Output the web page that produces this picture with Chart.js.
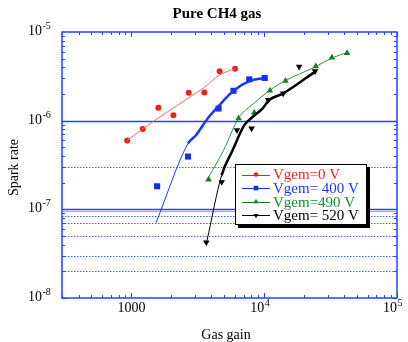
<!DOCTYPE html>
<html><head><meta charset="utf-8">
<script src="https://cdn.jsdelivr.net/npm/chart.js@4"></script>
<style>html,body{margin:0;padding:0;background:#fff;}canvas{display:block}</style>
</head><body>
<canvas id="c" width="408" height="342"></canvas>
<script>
// ---- data ----
const seriesNames = ["Vgem=0 V", "Vgem= 400 V", "Vgem=490 V", "Vgem= 520 V"];

const gain0 = [929, 1216, 1596, 2069, 2699, 3539, 4613, 6026];
const rate0 = [5.97e-7, 8.07e-7, 1.40e-6, 1.15e-6, 2.06e-6, 2.08e-6, 3.62e-6, 3.85e-6];
const fitGain0 = [929, 1216, 1534, 2729, 3539, 4590, 6026];
const fitRate0 = [5.97e-7, 8.07e-7, 1.03e-6, 1.83e-6, 2.37e-6, 3.27e-6, 3.85e-6];

const gain400 = [1561, 2667, 4529, 5872, 7709, 10093];
const rate400 = [1.82e-7, 3.94e-7, 1.37e-6, 2.17e-6, 2.92e-6, 3.03e-6];
const fitGain400 = [1534, 2667, 3062, 3750, 4529, 5872, 7709, 10093];
const fitRate400 = [7.08e-8, 5.52e-7, 6.86e-7, 1.06e-6, 1.46e-6, 2.17e-6, 2.79e-6, 3.03e-6];

const gain490 = [3811, 6412, 8414, 11037, 14460, 24470, 32300, 42050];
const rate490 = [2.17e-7, 1.06e-6, 1.23e-6, 2.18e-6, 2.82e-6, 4.11e-6, 5.15e-6, 5.79e-6];
const fitGain490 = [3811, 4943, 6412, 8414, 11037, 14460, 24470, 32300, 42050];
const fitRate490 = [2.30e-7, 4.64e-7, 1.07e-6, 1.58e-6, 2.21e-6, 2.83e-6, 4.07e-6, 5.08e-6, 5.86e-6];

const gain520 = [3665, 4786, 6237, 8036, 10720, 13900, 18320, 24150];
const rate520 = [4.24e-8, 2.03e-7, 7.81e-7, 8.17e-7, 1.71e-6, 2.03e-6, 4.06e-6, 3.62e-6];
const fitGain520 = [3698, 4775, 5781, 7080, 8169, 9707, 10910, 13900, 24470];
const fitRate520 = [4.35e-8, 2.42e-7, 4.64e-7, 8.89e-7, 1.10e-6, 1.37e-6, 1.71e-6, 2.03e-6, 3.62e-6];

const solidLines = [1e-6, 1e-7, 9.5e-8];
const dottedLines = [3e-7, 8.5e-8, 7e-8, 5e-8, 3e-8, 2e-8];
const xMajor = [1000, 10000, 100000];
const xMajorBase = ["1000", "10", "10"];
const xMajorExp = ["", "4", "5"];
const yMajor = [1e-5, 1e-6, 1e-7, 1e-8];
const yMajorExp = ["-5", "-6", "-7", "-8"];

// ---- styles ----
const colors = ["#f01e14", "#1030f0", "#0c7a22", "#000000"];
const lineColors = ["#f06a5a", "#1838f0", "#2a9040", "#000000"];
const textColors = ["#e8281c", "#1a3cf0", "#1a8a2e", "#000000"];
const SERIF = "'Liberation Serif','Times New Roman',serif";

function pts(xs, ys) { return xs.map((v, i) => ({x: v, y: ys[i]})); }

const markerDefs = [
  {style: 'circle', r: 3, rot: 0},
  {style: 'rect', r: 4.3, rot: 0},
  {style: 'triangle', r: 3.8, rot: 0},
  {style: 'triangle', r: 3.8, rot: 180}
];

const ds = [];
const fits = [[fitGain0, fitRate0], [fitGain400, fitRate400], [fitGain490, fitRate490], [fitGain520, fitRate520]];
const marks = [[gain0, rate0], [gain400, rate400], [gain490, rate490], [gain520, rate520]];
const thickFrom = [99, 1, 99, 1];
fits.forEach((f, i) => {
  ds.push({
    type: 'line', label: seriesNames[i] + ' fit', data: pts(f[0], f[1]),
    borderColor: lineColors[i], borderWidth: 1, pointRadius: 0,
    cubicInterpolationMode: 'monotone',
    segment: {borderWidth: c => (c.p0DataIndex >= thickFrom[i] ? 2.5 : 1)},
    fill: false
  });
});
marks.forEach((m, i) => {
  ds.push({
    type: 'scatter', label: seriesNames[i], data: pts(m[0], m[1]),
    backgroundColor: colors[i], borderColor: colors[i], borderWidth: 0,
    pointStyle: markerDefs[i].style, pointRadius: markerDefs[i].r, pointRotation: markerDefs[i].rot,
    showLine: false
  });
});

function drawMarker(ctx, i, x, y, scale) {
  Chart.helpers.drawPoint(ctx, {pointStyle: markerDefs[i].style, radius: markerDefs[i].r * scale, rotation: markerDefs[i].rot, borderWidth: 0}, x, y);
}

const deco = {
  id: 'deco',
  beforeDatasetsDraw(chart) {
    const {ctx, chartArea: a, scales: {y}} = chart;
    ctx.save();
    ctx.lineWidth = 1;
    dottedLines.forEach(v => {
      const py = Math.round(y.getPixelForValue(v)) + 0.5;
      ctx.strokeStyle = '#4060ff'; ctx.setLineDash([1.5, 1.5]);
      ctx.beginPath(); ctx.moveTo(a.left, py); ctx.lineTo(a.right, py); ctx.stroke();
    });
    ctx.setLineDash([]);
    solidLines.forEach((v, k) => {
      const py = Math.round(y.getPixelForValue(v)) + 0.5;
      ctx.strokeStyle = k === 2 ? '#9aaaff' : '#2244ff';
      ctx.lineWidth = k === 2 ? 1 : 1.3;
      ctx.beginPath(); ctx.moveTo(a.left, py); ctx.lineTo(a.right, py); ctx.stroke();
    });
    ctx.restore();
  },
  afterDraw(chart) {
    const {ctx, chartArea: a, scales: {x, y}} = chart;
    ctx.save();
    // frame
    ctx.strokeStyle = '#2244ff'; ctx.lineWidth = 1.5;
    ctx.strokeRect(a.left, a.top, a.right - a.left, a.bottom - a.top);
    // ticks
    ctx.lineWidth = 1;
    const xt = [];
    for (let e = 2; e <= 4; e++) for (let k = 1; k <= 9; k++) xt.push([k * Math.pow(10, e), k === 1]);
    xt.push([1e5, true]);
    xt.forEach(([v, maj]) => {
      if (v < x.min || v > x.max) return;
      const px = Math.round(x.getPixelForValue(v)) + 0.5;
      const L = maj ? 5 : 3;
      ctx.beginPath();
      ctx.moveTo(px, a.bottom); ctx.lineTo(px, a.bottom - L);
      ctx.moveTo(px, a.top); ctx.lineTo(px, a.top + L);
      ctx.stroke();
    });
    const yt = [];
    for (let e = -8; e <= -6; e++) for (let k = 1; k <= 9; k++) yt.push([k * Math.pow(10, e), k === 1]);
    yt.forEach(([v, maj]) => {
      const py = Math.round(y.getPixelForValue(v)) + 0.5;
      const L = maj ? 5 : 3;
      ctx.beginPath();
      ctx.moveTo(a.left, py); ctx.lineTo(a.left + L, py);
      ctx.moveTo(a.right, py); ctx.lineTo(a.right - L, py);
      ctx.stroke();
    });
    // tick labels
    ctx.fillStyle = '#000';
    ctx.textBaseline = 'alphabetic';
    yMajor.forEach((v, i) => {
      const py = y.getPixelForValue(v);
      ctx.font = '14px ' + SERIF; ctx.textAlign = 'right';
      ctx.fillText('10', 42, py + 3);
      ctx.font = '10px ' + SERIF; ctx.textAlign = 'left';
      ctx.fillText(yMajorExp[i], 42.5, py - 3);
    });
    xMajor.forEach((v, i) => {
      const px = x.getPixelForValue(v);
      if (xMajorExp[i] === '') {
        ctx.font = '14px ' + SERIF; ctx.textAlign = 'center';
        ctx.fillText(xMajorBase[i], px, 312);
      } else {
        ctx.font = '14px ' + SERIF; ctx.textAlign = 'right';
        ctx.fillText(xMajorBase[i], px, 312);
        ctx.font = '10px ' + SERIF; ctx.textAlign = 'left';
        ctx.fillText(xMajorExp[i], px + 0.5, 306);
      }
    });
    // title & axis titles
    ctx.font = 'bold 15px ' + SERIF; ctx.textAlign = 'center';
    ctx.fillText('Pure CH4 gas', 217, 18);
    ctx.font = '14px ' + SERIF;
    ctx.fillText('Gas gain', 226, 339);
    ctx.save();
    ctx.translate(18, 167.5); ctx.rotate(-Math.PI / 2);
    ctx.fillText('Spark rate', 0, 0);
    ctx.restore();
    // legend
    const bx = 235, by = 164, bw = 131, bh = 60;
    ctx.fillStyle = '#000';
    ctx.fillRect(bx + 3, by + 3, bw + 1, bh + 1);
    ctx.fillStyle = '#fff';
    ctx.fillRect(bx, by, bw, bh);
    ctx.strokeStyle = '#000'; ctx.lineWidth = 1;
    ctx.strokeRect(bx + 0.5, by + 0.5, bw, bh);
    seriesNames.forEach((n, i) => {
      const ry = 174.5 + i * 13.6;
      ctx.strokeStyle = colors[i]; ctx.lineWidth = 1;
      ctx.beginPath(); ctx.moveTo(242, Math.round(ry) + 0.5); ctx.lineTo(270, Math.round(ry) + 0.5); ctx.stroke();
      ctx.fillStyle = colors[i]; ctx.strokeStyle = colors[i];
      drawMarker(ctx, i, 256, ry, 0.75);
      ctx.fillStyle = textColors[i];
      ctx.font = '15px ' + SERIF; ctx.textAlign = 'left'; ctx.textBaseline = 'middle';
      ctx.fillText(n, 273, ry + 1);
    });
    ctx.restore();
  }
};

new Chart(document.getElementById('c'), {
  data: {datasets: ds},
  options: {
    responsive: false, animation: false, devicePixelRatio: 1,
    layout: {padding: {left: 62, right: 11, top: 32, bottom: 44}},
    plugins: {legend: {display: false}, tooltip: {enabled: false}},
    scales: {
      x: {type: 'logarithmic', min: 300, max: 100000, display: false},
      y: {type: 'logarithmic', min: 1e-8, max: 1e-5, display: false}
    }
  },
  plugins: [deco]
});
</script>
</body></html>
